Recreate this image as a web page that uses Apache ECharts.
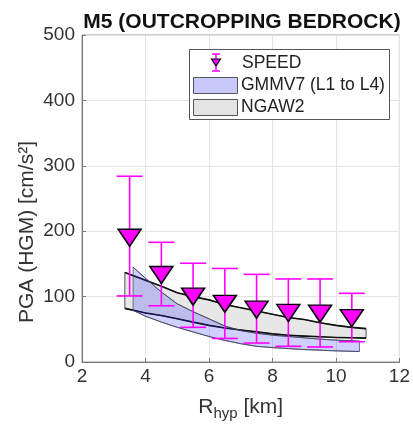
<!DOCTYPE html>
<html>
<head>
<meta charset="utf-8">
<script src="https://cdn.jsdelivr.net/npm/echarts@6/dist/echarts.min.js"></script>
<style>
  html, body { margin: 0; padding: 0; background: #fff; }
  #chart { width: 413px; height: 428px; }
</style>
</head>
<body>
<div id="chart"></div>
<script>
// SPEED records (triangles + error bars)
var distKm = [3.5, 4.5, 5.5, 6.5, 7.5, 8.5, 9.5, 10.5];
var speedPGA = [190, 133, 100, 89, 80, 75, 74, 67];
var speedHi = [284, 183, 151, 143, 134, 127, 127, 105];
var speedLo = [101, 86, 53, 36, 29, 24, 23, 31];

// NGAW2 band
var ngaX = [3.35, 4, 4.5, 5, 5.5, 6, 6.5, 7, 7.5, 8, 8.5, 9, 9.5, 10, 10.5, 10.95];
var ngaUp = [137, 125, 116, 106, 100, 95, 88, 83, 78, 73, 68, 65, 60, 56, 53, 51];
var ngaLo = [82, 75, 71, 66, 61, 56, 52, 49, 46, 43, 41, 39.5, 38.5, 37.5, 37, 36.5];

// GMMV7 (L1 to L4) band
var gmmX = [3.61, 4, 4.5, 5, 5.5, 6, 6.5, 7, 7.5, 8, 8.5, 9, 9.5, 10, 10.74];
var gmmUp = [145, 128, 107, 89, 77, 66, 55, 48, 44, 41, 39, 37, 35, 33.5, 32];
var gmmLo = [79, 70, 61, 53, 46, 39, 33, 28, 24, 22, 20.5, 19, 18, 17, 16];

var xTicks = [2, 12, 2];   // min, max, step
var yTicks = [0, 500, 100];

var FONT = 'Liberation Sans, Arial, sans-serif';
var MAGENTA = '#ff00ff';

var chart = echarts.init(document.getElementById('chart'), null, { renderer: 'canvas' });

function zip(xs, ys) {
  return xs.map(function (x, i) { return [x, ys[i]]; });
}

function bandSeries(name, xs, up, lo, fill, edge, edgeW, side) {
  var upper = zip(xs, up), lower = zip(xs, lo);
  return {
    name: name,
    type: 'custom',
    data: [upper[0]],
    z: 2,
    renderItem: function (params, api) {
      var u = upper.map(function (p) { return api.coord(p); });
      var l = lower.map(function (p) { return api.coord(p); });
      var poly = u.concat(l.slice().reverse());
      return {
        type: 'group',
        children: [
          { type: 'polygon', shape: { points: poly }, style: { fill: fill, stroke: side, lineWidth: 1 } },
          { type: 'polyline', shape: { points: u }, style: { fill: null, stroke: edge, lineWidth: edgeW } },
          { type: 'polyline', shape: { points: l }, style: { fill: null, stroke: edge, lineWidth: edgeW } }
        ]
      };
    }
  };
}

var option = {
  animation: false,
  grid: { left: 82, right: 13, top: 35, bottom: 66, show: true, borderColor: '#9a9a9a', borderWidth: 1 },
  xAxis: {
    type: 'value',
    min: xTicks[0], max: xTicks[1], interval: xTicks[2],
    axisLine: { show: true, lineStyle: { color: '#777', width: 1 } },
    axisTick: { show: true, inside: true, length: 4, lineStyle: { color: '#777' } },
    splitLine: { show: true, lineStyle: { color: '#e3e3e3', width: 1 } },
    axisLabel: { color: '#333', fontSize: 19, fontFamily: FONT, margin: 5 },
    name: '{r|R}{s|hyp}{r| [km]}',
    nameLocation: 'middle',
    nameGap: 34,
    nameTextStyle: {
      rich: {
        r: { fontSize: 21, fontFamily: FONT, color: '#333', lineHeight: 22 },
        s: { fontSize: 15, fontFamily: FONT, color: '#333', lineHeight: 15, padding: [14, 0, 0, 0] }
      }
    }
  },
  yAxis: {
    type: 'value',
    min: yTicks[0], max: yTicks[1], interval: yTicks[2],
    axisLine: { show: true, lineStyle: { color: '#777', width: 1 } },
    axisTick: { show: true, inside: true, length: 4, lineStyle: { color: '#777' } },
    splitLine: { show: true, lineStyle: { color: '#e3e3e3', width: 1 } },
    axisLabel: { color: '#333', fontSize: 19, fontFamily: FONT, margin: 7 }
  },
  graphic: [
    { type: 'text', x: 242, y: 22, z: 10,
      style: { text: 'M5 (OUTCROPPING BEDROCK)', align: 'center', verticalAlign: 'middle',
               font: 'bold 21px ' + FONT, fill: '#111' } },
    { type: 'text', x: 27, y: 232, rotation: Math.PI / 2, z: 10,
      style: { text: 'PGA (HGM) [cm/s²]', align: 'center', verticalAlign: 'middle',
               font: '21px ' + FONT, fill: '#333' } },
    // legend
    { type: 'rect', shape: { x: 189.5, y: 49.5, width: 200, height: 70 }, z: 20,
      style: { fill: '#fff', stroke: '#555', lineWidth: 1 } },
    { type: 'line', shape: { x1: 216, y1: 54, x2: 216, y2: 71 }, z: 21, style: { stroke: MAGENTA, lineWidth: 1.5 } },
    { type: 'line', shape: { x1: 212, y1: 54, x2: 220, y2: 54 }, z: 21, style: { stroke: MAGENTA, lineWidth: 1.5 } },
    { type: 'line', shape: { x1: 212, y1: 71, x2: 220, y2: 71 }, z: 21, style: { stroke: MAGENTA, lineWidth: 1.5 } },
    { type: 'polygon', shape: { points: [[211.5, 59], [220.5, 59], [216, 66]] }, z: 22,
      style: { fill: MAGENTA, stroke: '#000', lineWidth: 1.2 } },
    { type: 'text', x: 242, y: 63, z: 21,
      style: { text: 'SPEED', verticalAlign: 'middle', font: '17.5px ' + FONT, fill: '#222' } },
    { type: 'rect', shape: { x: 193.5, y: 77.5, width: 44, height: 16 }, z: 21,
      style: { fill: '#c8c8fa', stroke: '#555', lineWidth: 1 } },
    { type: 'text', x: 241, y: 85.5, z: 21,
      style: { text: 'GMMV7 (L1 to L4)', verticalAlign: 'middle', font: '17.5px ' + FONT, fill: '#222' } },
    { type: 'rect', shape: { x: 193.5, y: 99.5, width: 44, height: 16 }, z: 21,
      style: { fill: '#e4e4e4', stroke: '#555', lineWidth: 1 } },
    { type: 'text', x: 241, y: 107.5, z: 21,
      style: { text: 'NGAW2', verticalAlign: 'middle', font: '17.5px ' + FONT, fill: '#222' } }
  ],
  series: [
    bandSeries('NGAW2', ngaX, ngaUp, ngaLo, 'rgba(228,228,228,0.9)', '#111', 1.6, '#555'),
    bandSeries('GMMV7 (L1 to L4)', gmmX, gmmUp, gmmLo, 'rgba(40,40,255,0.22)', 'rgba(60,60,90,0.7)', 1, 'rgba(60,60,90,0.7)'),
    {
      name: 'SPEED range',
      type: 'custom',
      z: 5,
      data: distKm.map(function (x, i) { return [x, speedLo[i], speedHi[i]]; }),
      encode: { x: 0, y: [1, 2] },
      renderItem: function (params, api) {
        var lo = api.coord([api.value(0), api.value(1)]);
        var hi = api.coord([api.value(0), api.value(2)]);
        var hw = 13;
        var st = { stroke: MAGENTA, lineWidth: 1.6 };
        return {
          type: 'group',
          children: [
            { type: 'line', shape: { x1: lo[0], y1: lo[1], x2: hi[0], y2: hi[1] }, style: st },
            { type: 'line', shape: { x1: lo[0] - hw, y1: lo[1], x2: lo[0] + hw, y2: lo[1] }, style: st },
            { type: 'line', shape: { x1: hi[0] - hw, y1: hi[1], x2: hi[0] + hw, y2: hi[1] }, style: st }
          ]
        };
      }
    },
    {
      name: 'SPEED',
      type: 'scatter',
      z: 6,
      data: zip(distKm, speedPGA),
      symbol: 'triangle',
      symbolRotate: 180,
      symbolSize: [23, 17],
      itemStyle: { color: MAGENTA, borderColor: '#000', borderWidth: 1.5, opacity: 1 }
    }
  ]
};

chart.setOption(option);
</script>
</body>
</html>
